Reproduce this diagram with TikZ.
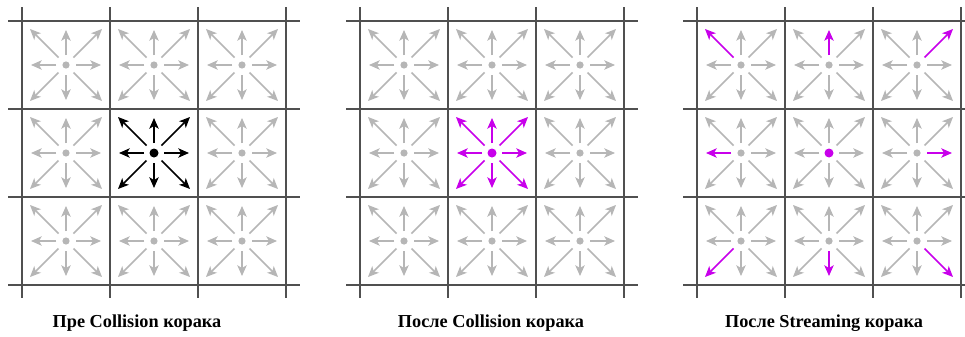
\documentclass[tikz,border=0pt]{standalone}
\usepackage{fontspec}
\setmainfont{Liberation Serif}
\usetikzlibrary{arrows.meta}

\definecolor{latgray}{RGB}{182,182,182}
\definecolor{gridgray}{RGB}{80,80,80}
\definecolor{latmag}{RGB}{200,0,235}

\tikzset{
  gridline/.style={gridgray, line width=1.1pt},
  velarrow/.style={line width=1.1pt, -{Stealth[length=8pt,width=7pt,inset=2pt]}},
  steplabel/.style={font=\bfseries\fontsize{13.7}{15}\selectfont, anchor=base}
}

\begin{document}
\begin{tikzpicture}[x=0.75pt, y=-0.75pt]
    \clip (0,0) rectangle (965,336);
    \fill[white] (0,0) rectangle (965,336);

    \foreach \p/\ox in {1/22, 2/360, 3/697} {
        % The grid
        \foreach \k in {0,...,3} {
            \draw[gridline] ({\ox-14}, {21+88*\k}) -- ({\ox+278}, {21+88*\k});
            \draw[gridline] ({\ox+88*\k}, 7) -- ({\ox+88*\k}, 298);
        }
        % The lattice sites with their eight velocities
        \foreach \c in {0,1,2} {
            \foreach \r in {0,1,2} {
                \coordinate (s\p\c\r) at ({\ox+44+88*\c}, {65+88*\r});
                \foreach \dx/\dy in {1/0, 1/1, 0/1, -1/1, -1/0, -1/-1, 0/-1, 1/-1} {
                    \pgfmathsetmacro\rs{(\dx==0 || \dy==0) ? 10 : 7.5}
                    \pgfmathsetmacro\re{(\dx==0 || \dy==0) ? 35 : 36}
                    \pgfmathtruncatemacro\hot{(\p==1 && \c==1 && \r==1) ? 1 : (((\p==2 && \c==1 && \r==1) || (\p==3 && \dx==\c-1 && \dy==\r-1)) ? 2 : 0)}
                    \ifcase\hot \def\acol{latgray}\or \def\acol{black}\or \def\acol{latmag}\fi
                    \draw[velarrow, \acol, shift={(s\p\c\r)}]
                        ({\rs*(\dx)}, {\rs*(\dy)}) -- ({\re*(\dx)}, {\re*(\dy)});
                }
                \pgfmathtruncatemacro\hotdot{(\c==1 && \r==1) ? \p : 0}
                \ifcase\hotdot
                    \fill[latgray] (s\p\c\r) circle (3.6);
                \or
                    \fill[black] (s\p\c\r) circle (4.5);
                \else
                    \fill[latmag] (s\p\c\r) circle (4.5);
                \fi
            }
        }
    }

    % The captions
    \node[steplabel] (pre) at (137,327) {Пре Collision корака};
    \node[steplabel] (post) at (491,327) {После Collision корака};
    \node[steplabel] (stream) at (824,327) {После Streaming корака};
\end{tikzpicture}
\end{document}
